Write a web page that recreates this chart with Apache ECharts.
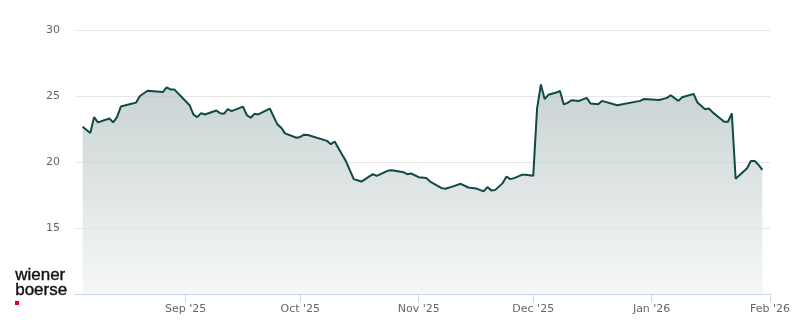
<!DOCTYPE html>
<html>
<head>
<meta charset="utf-8">
<script src="https://cdn.jsdelivr.net/npm/echarts@6/dist/echarts.min.js"></script>
<style>html,body{margin:0;padding:0;background:#fff}#c{width:800px;height:324px}</style>
</head>
<body>
<div id="c"></div>
<script>
var dates = ['2025-08-05','2025-08-07','2025-08-08','2025-08-09','2025-08-12','2025-08-13','2025-08-14','2025-08-15','2025-08-17','2025-08-19','2025-08-20','2025-08-22','2025-08-26','2025-08-27','2025-08-28','2025-08-29',
'2025-09-01','2025-09-02','2025-09-03','2025-09-04','2025-09-05','2025-09-06','2025-09-09','2025-09-10','2025-09-11','2025-09-12','2025-09-13','2025-09-16','2025-09-17','2025-09-18','2025-09-19','2025-09-20','2025-09-23','2025-09-25','2025-09-26','2025-09-27','2025-09-30',
'2025-10-01','2025-10-02','2025-10-03','2025-10-08','2025-10-09','2025-10-10','2025-10-11','2025-10-13','2025-10-15','2025-10-17','2025-10-20','2025-10-21','2025-10-24','2025-10-25','2025-10-28','2025-10-29','2025-10-30',
'2025-11-01','2025-11-03','2025-11-04','2025-11-07','2025-11-08','2025-11-10','2025-11-12','2025-11-14','2025-11-16','2025-11-18','2025-11-19','2025-11-20','2025-11-21','2025-11-23','2025-11-24','2025-11-25','2025-11-26','2025-11-28','2025-11-29',
'2025-12-01','2025-12-02','2025-12-03','2025-12-04','2025-12-05','2025-12-07','2025-12-08','2025-12-09','2025-12-10','2025-12-11','2025-12-13','2025-12-15','2025-12-16','2025-12-18','2025-12-19','2025-12-23','2025-12-29','2025-12-30',
'2026-01-03','2026-01-05','2026-01-06','2026-01-08','2026-01-09','2026-01-12','2026-01-13','2026-01-15','2026-01-16','2026-01-17','2026-01-20','2026-01-21','2026-01-22','2026-01-23','2026-01-26','2026-01-27','2026-01-28','2026-01-29','2026-01-30'];
var prices = [22.67,22.2,23.4,23.0,23.3,23.0,23.4,24.2,24.35,24.5,25.0,25.4,25.3,25.66,25.5,25.5,
24.6,24.3,23.6,23.4,23.7,23.6,23.9,23.7,23.65,24.0,23.85,24.2,23.55,23.35,23.65,23.6,24.05,22.85,22.6,22.17,21.84,
21.9,22.07,22.05,21.6,21.35,21.55,21.04,20.03,18.7,18.52,19.08,18.95,19.35,19.38,19.23,19.08,19.13,
18.85,18.78,18.52,18.02,17.97,18.15,18.35,18.07,18.0,17.77,18.1,17.85,17.87,18.4,18.9,18.7,18.78,19.03,19.03,
18.95,24.05,25.87,24.76,25.1,25.26,25.38,24.36,24.48,24.68,24.63,24.86,24.43,24.38,24.63,24.3,24.63,24.78,
24.7,24.86,25.06,24.63,24.9,25.16,24.5,24.0,24.05,23.76,23.05,23.05,23.68,18.73,19.53,20.08,20.08,19.78,19.4];
var tickDates = ['2025-09-01','2025-10-01','2025-11-01','2025-12-01','2026-01-01','2026-02-01'];
var tickLabels = ["Sep '25","Oct '25","Nov '25","Dec '25","Jan '26","Feb '26"];
var yTicks = [15, 20, 25, 30];

function ts(s){var p=s.split('-');return Date.UTC(+p[0],+p[1]-1,+p[2]);}
var tickTs = tickDates.map(ts);
var chart = echarts.init(document.getElementById('c'), null, {renderer:'canvas'});
chart.setOption({
  animation:false,
  grid:{left:75,right:30,top:30,bottom:30,containLabel:false},
  xAxis:{
    type:'value',
    min:ts('2025-08-03'), max:ts('2026-02-01'),
    axisLine:{show:true,lineStyle:{color:'#ccd6eb',width:1}},
    axisTick:{show:true,length:8,lineStyle:{color:'#ccd6eb'},customValues:tickTs},
    axisLabel:{customValues:tickTs,color:'#666666',fontSize:11,fontFamily:'DejaVu Sans',margin:10,
      showMinLabel:true,showMaxLabel:true,
      formatter:function(v){var i=tickTs.indexOf(v);return i>=0?tickLabels[i]:'';}},
    splitLine:{show:false}
  },
  yAxis:{
    type:'value',min:10,max:30,interval:5,
    axisLine:{show:false},axisTick:{show:false},
    splitLine:{lineStyle:{color:'#e6e6e6',width:1}},
    axisLabel:{color:'#666666',fontSize:11,fontFamily:'DejaVu Sans',margin:15,
      formatter:function(v){return yTicks.indexOf(v)>=0?String(v):'';}}
  },
  series:[{
    type:'line',
    data:dates.map(function(d,i){return [ts(d),prices[i]];}),
    showSymbol:false,symbol:'none',
    lineStyle:{color:'#0f4a45',width:2},
    areaStyle:{color:new echarts.graphic.LinearGradient(0,0,0,1,[{offset:0,color:'#b1c0bf'},{offset:1,color:'#f1f3f4'}])},
    z:2
  }],
  graphic:[
    {type:'text',left:15,top:267,style:{text:'wiener',font:'17px "Liberation Sans"',fill:'#111',stroke:'#111',lineWidth:0.4}},
    {type:'text',left:15,top:282,style:{text:'boerse',font:'17px "Liberation Sans"',fill:'#111',stroke:'#111',lineWidth:0.4}},
    {type:'rect',left:15,top:301,shape:{width:4,height:4},style:{fill:'#e2001a'}}
  ]
});
</script>
</body>
</html>
